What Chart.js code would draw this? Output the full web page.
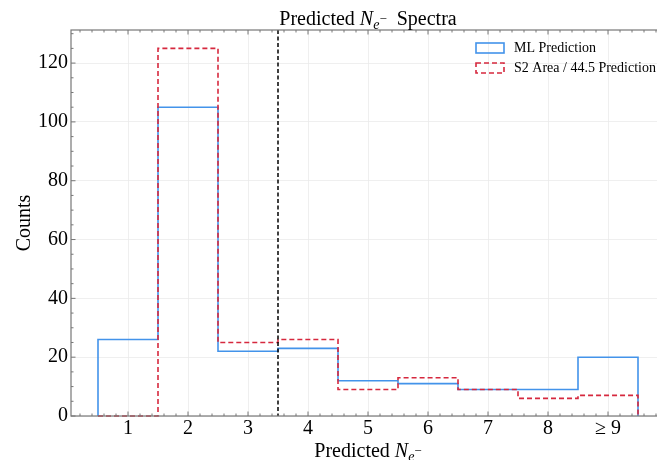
<!DOCTYPE html>
<html>
<head>
<meta charset="utf-8">
<script src="https://cdn.jsdelivr.net/npm/chart.js@4.4.1/dist/chart.umd.min.js"></script>
<style>
  html, body { margin: 0; padding: 0; background: #fff; overflow: hidden; }
  #wrap { position: absolute; left: 0; top: 0; width: 690px; height: 460px; }
</style>
</head>
<body>
<div id="wrap"><canvas id="spectra" width="690" height="460"></canvas></div>
<script>
  // Histogram data
  const BIN_CENTERS = [1, 2, 3, 4, 5, 6, 7, 8, 9];
  const BIN_LABELS = ['1', '2', '3', '4', '5', '6', '7', '8', '≥ 9'];
  const ML_COUNTS = [26, 105, 22, 23, 12, 11, 9, 9, 20];
  const S2_COUNTS = [0, 125, 25, 26, 9, 13, 9, 6, 7];
  const Y_TICKS = [0, 20, 40, 60, 80, 100, 120];
  const THRESHOLD = 3.5;

  const SERIF = '"Liberation Serif", "Times New Roman", serif';
  const SPINE = '#777';

  // turn bin counts into the outline of a step histogram
  function stepOutline(counts){
    const pts = [];
    const lo = BIN_CENTERS[0] - 0.5;
    pts.push({ x: lo, y: 0 });
    counts.forEach((c, i) => {
      pts.push({ x: BIN_CENTERS[i] - 0.5, y: c });
      pts.push({ x: BIN_CENTERS[i] + 0.5, y: c });
    });
    pts.push({ x: BIN_CENTERS[BIN_CENTERS.length - 1] + 0.5, y: 0 });
    return pts;
  }

  // draws "Predicted N_e-" style text, centred at cx
  function drawNeText(ctx, prefix, suffix, cx, baseline, size){
    const parts = [
      { t: prefix, f: `${size}px ${SERIF}`, dy: 0 },
      { t: 'N', f: `italic ${size}px ${SERIF}`, dy: 0 },
      { t: 'e', f: `italic ${Math.round(size * 0.7)}px ${SERIF}`, dy: size * 0.22 },
      { t: '\u2212', f: `${Math.round(size * 0.65)}px ${SERIF}`, dy: -size * 0.08 },
      { t: suffix, f: `${size}px ${SERIF}`, dy: 0 }
    ];
    let w = 0;
    parts.forEach(p => { ctx.font = p.f; p.w = ctx.measureText(p.t).width; w += p.w; });
    let x = cx - w / 2;
    ctx.textAlign = 'left';
    ctx.textBaseline = 'alphabetic';
    ctx.fillStyle = '#000';
    parts.forEach(p => { ctx.font = p.f; ctx.fillText(p.t, x, baseline + p.dy); x += p.w; });
  }

  const frameAndText = {
    id: 'frameAndText',
    afterDatasetsDraw(chart){
      const { ctx, chartArea: a, scales } = chart;
      const px = scales.x.getPixelForValue(THRESHOLD);
      ctx.save();
      ctx.strokeStyle = '#000';
      ctx.lineWidth = 1.5;
      ctx.setLineDash([4, 2.5]);
      ctx.beginPath();
      ctx.moveTo(px, a.top);
      ctx.lineTo(px, a.bottom);
      ctx.stroke();
      ctx.restore();
    },
    afterDraw(chart){
      const { ctx, chartArea: a, scales } = chart;
      const xs = scales.x, ys = scales.y;
      ctx.save();
      ctx.strokeStyle = SPINE;
      ctx.lineWidth = 1.2;
      ctx.strokeRect(a.left, a.top, a.right - a.left, a.bottom - a.top);

      // inward ticks, major and minor, on all four sides
      ctx.lineWidth = 1;
      ctx.beginPath();
      const tickX = (v, len) => {
        const p = xs.getPixelForValue(v);
        ctx.moveTo(p, a.bottom); ctx.lineTo(p, a.bottom - len);
        ctx.moveTo(p, a.top); ctx.lineTo(p, a.top + len);
      };
      const tickY = (v, len) => {
        const p = ys.getPixelForValue(v);
        ctx.moveTo(a.left, p); ctx.lineTo(a.left + len, p);
        ctx.moveTo(a.right, p); ctx.lineTo(a.right - len, p);
      };
      for (let i = Math.ceil(xs.min * 5); i <= xs.max * 5; i++) tickX(i / 5, i % 5 === 0 ? 4.5 : 2.5);
      for (let v = 0; v <= ys.max; v += 5) tickY(v, v % 20 === 0 ? 4.5 : 2.5);
      ctx.stroke();

      // legend inside the axes, upper right
      chart.data.datasets.slice().sort((p, q) => q.order - p.order).forEach((ds, i) => {
        const y = 43 + i * 20;
        ctx.setLineDash(ds.borderDash || []);
        ctx.strokeStyle = ds.borderColor;
        ctx.lineWidth = 1.6;
        ctx.strokeRect(476, y, 28, 10);
        ctx.setLineDash([]);
        ctx.fillStyle = '#000';
        ctx.font = `14px ${SERIF}`;
        ctx.textAlign = 'left';
        ctx.textBaseline = 'middle';
        ctx.fillText(ds.label, 514, y + 5.5);
      });

      const cx = (a.left + 665) / 2;
      drawNeText(ctx, 'Predicted ', '  Spectra', cx, 25, 20);
      drawNeText(ctx, 'Predicted ', '', cx, 457, 20);
      ctx.restore();
    }
  };

  new Chart(document.getElementById('spectra'), {
    type: 'line',
    data: {
      datasets: [
        {
          label: 'ML Prediction',
          data: stepOutline(ML_COUNTS),
          borderColor: '#4393ea',
          borderWidth: 1.6,
          order: 2
        },
        {
          label: 'S2 Area / 44.5 Prediction',
          data: stepOutline(S2_COUNTS),
          borderColor: '#d6283e',
          borderWidth: 1.6,
          borderDash: [5, 3],
          order: 1
        }
      ]
    },
    options: {
      responsive: false,
      animation: false,
      devicePixelRatio: 1,
      layout: { padding: { top: 30, right: 25, left: 0, bottom: 0 } },
      elements: {
        point: { radius: 0 },
        line: { tension: 0, fill: false, borderJoinStyle: 'miter' }
      },
      datasets: { line: { clip: 4 } },
      plugins: { legend: { display: false }, title: { display: false }, tooltip: { enabled: false } },
      scales: {
        x: {
          type: 'linear',
          min: 0.05,
          max: 9.95,
          afterBuildTicks: s => { s.ticks = BIN_CENTERS.map(v => ({ value: v })); },
          afterFit: s => { s.height = 44; },
          ticks: {
            callback: v => BIN_LABELS[BIN_CENTERS.indexOf(v)] ?? '',
            color: '#000',
            font: { family: SERIF, size: 20 },
            padding: 1,
            maxRotation: 0
          },
          grid: { color: '#ebebeb', lineWidth: 0.8, drawTicks: false },
          border: { display: false }
        },
        y: {
          min: 0,
          max: 131.25,
          afterBuildTicks: s => { s.ticks = Y_TICKS.map(v => ({ value: v })); },
          afterFit: s => { s.width = 71; },
          ticks: {
            color: '#000',
            font: { family: SERIF, size: 20 },
            padding: 3
          },
          title: {
            display: true,
            text: 'Counts',
            color: '#000',
            font: { family: SERIF, size: 20 },
            padding: { top: 13, bottom: 2 }
          },
          grid: { color: '#ebebeb', lineWidth: 0.8, drawTicks: false },
          border: { display: false }
        }
      }
    },
    plugins: [frameAndText]
  });
</script>
</body>
</html>
